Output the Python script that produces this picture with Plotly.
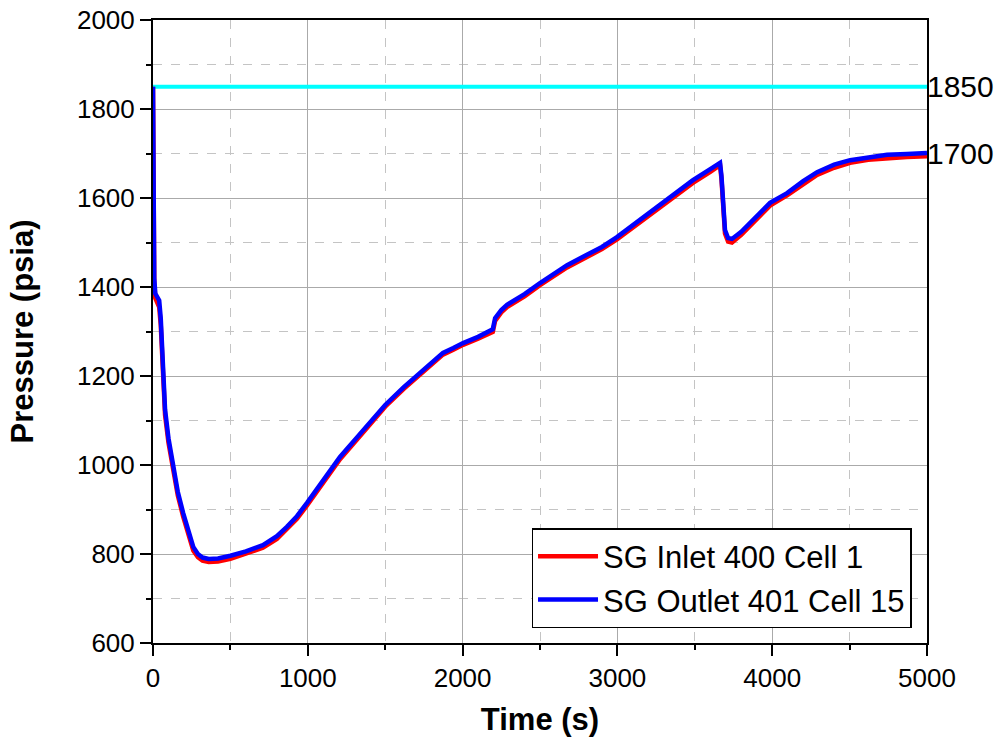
import plotly.graph_objects as go

# Time (s) and pressure (psia)
t_out = [0, 3, 8, 15, 30, 40, 50, 60, 78, 100, 130, 160, 195, 230, 260, 290, 320, 360, 420, 500,
         600, 710, 800, 865, 930, 995, 1100, 1208, 1350, 1500, 1620, 1725, 1800, 1873, 1940, 2003,
         2100, 2177, 2195, 2210, 2250, 2287, 2400, 2500, 2600, 2675, 2800, 2900, 2997, 3146, 3300,
         3488, 3600, 3663, 3672, 3680, 3695, 3715, 3740, 3800, 3857, 3920, 3986, 4096, 4200, 4290,
         4400, 4503, 4620, 4742, 4870, 5000]
p_out = [1850, 1600, 1420, 1385, 1378, 1370, 1330, 1260, 1124, 1060, 995, 940, 892, 848, 816, 800,
         792, 789, 790, 796, 806, 820, 840, 861, 885, 915, 965, 1018, 1075, 1135, 1175, 1207, 1232,
         1252, 1263, 1274, 1288, 1300, 1305, 1330, 1348, 1360, 1384, 1409, 1432, 1449, 1472, 1490,
         1512, 1551, 1592, 1640, 1665, 1679, 1650, 1590, 1528, 1510, 1508, 1524, 1544, 1566, 1589,
         1611, 1638, 1658, 1675, 1685, 1692, 1697, 1699, 1701]

t_in = [0, 3, 8, 15, 30, 40, 50, 60, 78, 100, 130, 160, 195, 230, 260, 290, 320, 360, 420, 500,
        600, 710, 800, 865, 930, 995, 1100, 1208, 1350, 1500, 1620, 1725, 1800, 1873, 1940, 2003,
        2100, 2177, 2195, 2210, 2250, 2287, 2400, 2500, 2600, 2675, 2800, 2900, 2997, 3146, 3300,
        3488, 3600, 3663, 3672, 3680, 3695, 3715, 3740, 3800, 3857, 3920, 3986, 4096, 4200, 4290,
        4400, 4503, 4620, 4742, 4870, 5000]
p_in = [1850, 1590, 1410, 1375, 1365, 1355, 1315, 1245, 1112, 1050, 987, 932, 884, 840, 808, 793,
        785, 782, 783, 789, 800, 814, 834, 855, 879, 909, 960, 1013, 1070, 1131, 1171, 1203, 1228,
        1248, 1259, 1270, 1284, 1295, 1299, 1324, 1343, 1355, 1379, 1404, 1427, 1444, 1467, 1485,
        1507, 1546, 1587, 1634, 1659, 1674, 1644, 1583, 1520, 1502, 1500, 1517, 1538, 1560, 1583,
        1606, 1632, 1652, 1668, 1679, 1686, 1690, 1692, 1694]

ref_t = [0, 5000]
ref_p = [1850, 1850]

label_vals = [1850, 1700]
label_texts = ["1850", "1700"]

FONT = "Liberation Sans, Arial"

fig = go.Figure()
fig.add_trace(go.Scatter(x=ref_t, y=ref_p, mode="lines", line=dict(color="#00FFFF", width=4),
                         showlegend=False, hoverinfo="skip"))
fig.add_trace(go.Scatter(x=t_in, y=p_in, mode="lines", name="SG Inlet 400 Cell 1",
                         line=dict(color="#FF0000", width=4.5)))
fig.add_trace(go.Scatter(x=t_out, y=p_out, mode="lines", name="SG Outlet 401 Cell 15",
                         line=dict(color="#0000FF", width=4.5)))

for v, txt in zip(label_vals, label_texts):
    fig.add_annotation(x=1.0, xref="paper", y=v, yref="y", text=txt, showarrow=False,
                       xanchor="left", yanchor="middle", xshift=-2,
                       font=dict(family=FONT, size=30, color="black"))

axis_common = dict(
    showline=True, linecolor="black", linewidth=2, mirror=True,
    ticks="outside", ticklen=11, tickwidth=2, tickcolor="black",
    showgrid=True, gridcolor="#aaaaaa", gridwidth=1.3,
    zeroline=False, automargin=False,
    tickfont=dict(family=FONT, size=26, color="black"),
)

fig.update_xaxes(
    range=[0, 5000], dtick=1000, tick0=0,
    title=dict(text="<b>Time (s)</b>", font=dict(family=FONT, size=31, color="black"), standoff=16),
    minor=dict(dtick=500, ticks="outside", ticklen=5, tickwidth=2, tickcolor="black",
               showgrid=True, gridcolor="#c4c4c4", griddash="dash", gridwidth=1),
    **axis_common,
)
fig.update_yaxes(
    range=[600, 2000], dtick=200, tick0=0,
    title=dict(text="<b>Pressure (psia)</b>", font=dict(family=FONT, size=31, color="black"), standoff=34),
    minor=dict(dtick=100, ticks="outside", ticklen=5, tickwidth=2, tickcolor="black",
               showgrid=True, gridcolor="#c4c4c4", griddash="dash", gridwidth=1),
    **axis_common,
)

fig.update_layout(
    width=1008, height=747,
    margin=dict(l=153, r=81, t=20, b=104),
    plot_bgcolor="white", paper_bgcolor="white",
    font=dict(family=FONT, color="black"),
    legend=dict(x=0.98, y=0.024, xanchor="right", yanchor="bottom",
                bordercolor="black", borderwidth=1.5, bgcolor="white",
                font=dict(family=FONT, size=31, color="black"),
                tracegroupgap=0, itemwidth=60),
)

fig.write_html("out.html")
